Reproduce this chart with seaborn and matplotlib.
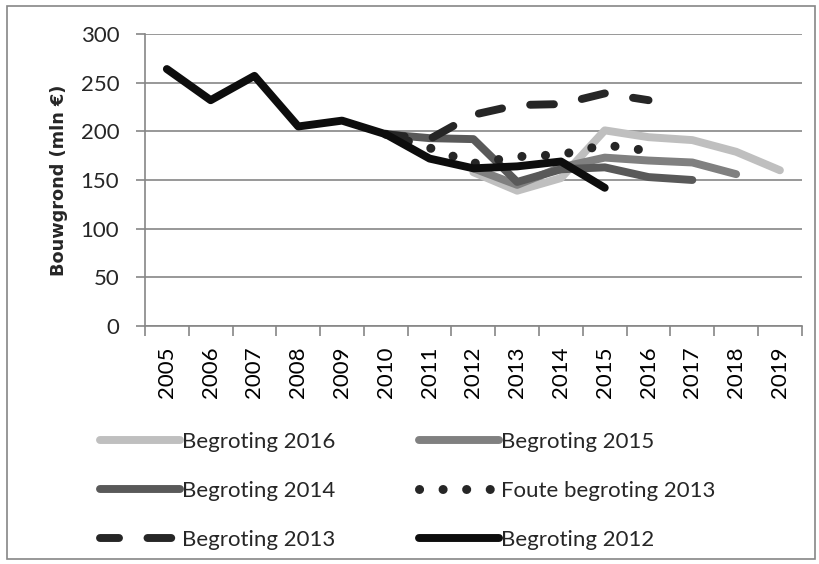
import numpy as np
import pandas as pd
import seaborn as sns
import matplotlib.pyplot as plt
from matplotlib.patches import Rectangle

sns.set_style("white")
plt.rcParams['font.family'] = ['Lato', 'DejaVu Sans']

years = list(range(2005, 2020))

# one list of years + one list of values per series
b2016_years = [2012, 2013, 2014, 2015, 2016, 2017, 2018, 2019]
b2016 = [158, 139, 152, 201, 194, 191, 179, 160]
b2015_years = [2012, 2013, 2014, 2015, 2016, 2017, 2018]
b2015 = [162, 145, 163, 173, 170, 168, 156]
b2014_years = [2010, 2011, 2012, 2013, 2014, 2015, 2016, 2017]
b2014 = [197, 193, 192, 148, 161, 163, 153, 150]
foute2013_years = [2010, 2011, 2012, 2013, 2014, 2015, 2016]
foute2013 = [197, 183, 167, 174, 176, 186, 180]
b2013_years = [2010, 2011, 2012, 2013, 2014, 2015, 2016]
b2013 = [197, 192, 217, 227, 228, 239, 232]
b2012_years = list(range(2005, 2016))
b2012 = [264, 232, 257, 205, 211, 197, 172, 162, 164, 169, 142]

fs = 16
grid_c = "#868686"

fig = plt.figure(figsize=(8.2, 5.64), dpi=100)
ax = fig.add_axes([0.1768, 0.422, 0.801, 0.5177])

lw = 5.7
sns.lineplot(x=b2016_years, y=b2016, ax=ax, color="#BFBFBF", lw=lw,
             solid_capstyle="round", label="Begroting 2016")
sns.lineplot(x=b2015_years, y=b2015, ax=ax, color="#808080", lw=lw,
             solid_capstyle="round", label="Begroting 2015")
sns.lineplot(x=b2014_years, y=b2014, ax=ax, color="#595959", lw=lw,
             solid_capstyle="round", label="Begroting 2014")
sns.lineplot(x=foute2013_years, y=foute2013, ax=ax, color="#262626", lw=6.5,
             linestyle=(0, (0.01, 2.6)), dash_capstyle="round",
             label="Foute begroting 2013")
sns.lineplot(x=b2013_years, y=b2013, ax=ax, color="#262626", lw=lw,
             linestyle=(0.6, (3.0, 3.6)), dash_capstyle="round",
             label="Begroting 2013")
sns.lineplot(x=b2012_years, y=b2012, ax=ax, color="#0D0D0D", lw=lw,
             solid_capstyle="round", label="Begroting 2012")

ax.set_xlim(2004.5, 2019.5)
ax.set_ylim(0, 300)
ax.set_yticks(range(0, 301, 50))
ax.set_xticks(years)
ax.set_xticklabels([str(y) for y in years], rotation=90)
ax.set_xticks(np.arange(2004.5, 2020, 1), minor=True)
ax.tick_params(axis="x", which="major", length=0, pad=15, labelsize=fs, colors="black")
ax.tick_params(axis="x", which="minor", length=7, width=1.2, color=grid_c, direction="out", bottom=True)
ax.tick_params(axis="y", length=6.5, width=1.2, color=grid_c, direction="out", left=True,
               labelsize=fs, pad=12)
ax.yaxis.grid(True, color=grid_c, lw=1.2)
ax.set_axisbelow(True)
for s in ["top", "right"]:
    ax.spines[s].set_visible(False)
for s in ["left", "bottom"]:
    ax.spines[s].set_color(grid_c)
    ax.spines[s].set_linewidth(1.2)

ax.set_xlabel("")
ax.set_ylabel("Bouwgrond (mln €)", fontsize=12.8, fontweight="bold",
              family=["DejaVu Sans"], labelpad=9)

# Excel fills the legend row by row
handles, labels = ax.get_legend_handles_labels()
order = [0, 2, 4, 1, 3, 5]
ax.legend_.remove()
fig.legend([handles[i] for i in order], [labels[i] for i in order], ncol=2,
           loc="upper left", bbox_to_anchor=(0.122, 0.234),
           frameon=False, fontsize=fs, handlelength=3.6, handletextpad=0.1,
           columnspacing=3.75, labelspacing=1.3, borderaxespad=0, borderpad=0)

fig.patches.append(Rectangle((0.009, 0.008), 0.985, 0.982, transform=fig.transFigure,
                             fill=False, edgecolor=grid_c, lw=1.2))

fig.savefig("out.png", dpi=100)
